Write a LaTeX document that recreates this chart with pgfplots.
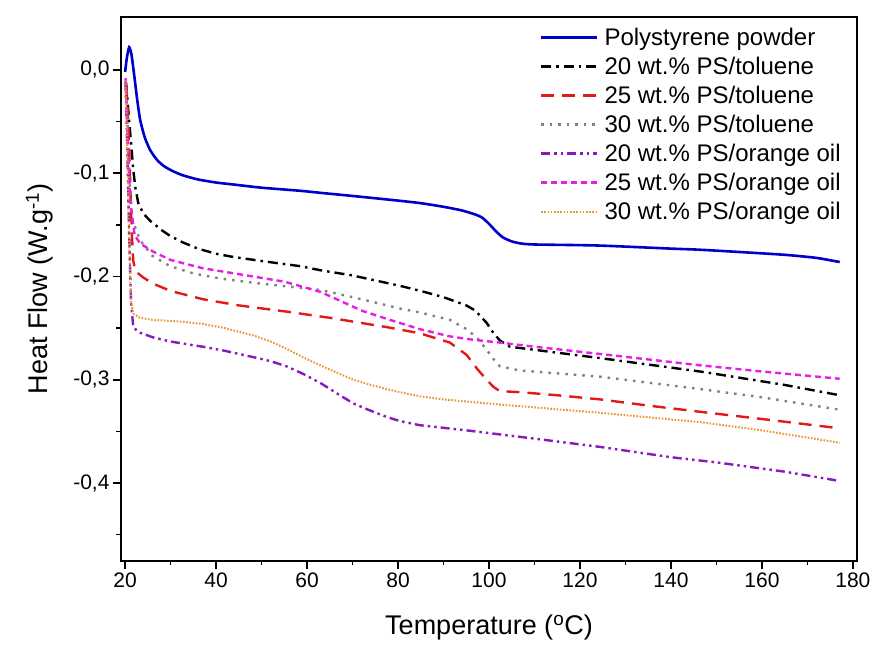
\documentclass[border=0pt]{standalone}
\usepackage{fontspec}
\setmainfont{Liberation Sans}
\usepackage{pgfplots}
\pgfplotsset{compat=1.18}
\definecolor{cblue}{RGB}{0,0,205}
\definecolor{cred}{RGB}{225,25,25}
\definecolor{cgray}{RGB}{128,128,128}
\definecolor{cpurple}{RGB}{135,25,190}
\definecolor{cmag}{RGB}{230,30,230}
\definecolor{corange}{RGB}{230,150,50}
\begin{document}
\begin{tikzpicture}
\begin{axis}[
  at={(0,0)}, anchor=south west,
  scale only axis, width=736pt, height=544pt,
  xmin=19.1, xmax=180.9, ymin=-0.4755, ymax=0.0513,
  xtick={20,40,...,180}, minor xtick={30,50,...,170},
  ytick={-0.4,-0.3,-0.2,-0.1,0}, minor ytick={-0.45,-0.35,-0.25,-0.15,-0.05},
  tick align=outside, tick pos=left,
  major tick length=8pt, minor tick length=4.5pt,
  every tick/.style={black, line width=1.5pt},
  axis line style={line width=1.8pt, black},
  /pgf/number format/assume math mode=true,
  yticklabel style={/pgf/number format/.cd, fixed, fixed zerofill, precision=1, use comma},
  xticklabel style={/pgf/number format/.cd, fixed},
  ticklabel style={font=\fontsize{21}{25}\selectfont},
  xlabel={Temperature (\textsuperscript{o}C)},
  ylabel={Heat Flow (W.g\textsuperscript{-1})},
  label style={font=\fontsize{27}{32}\selectfont},
  xlabel style={at={(axis description cs:0.5,0)}, anchor=north, yshift=-50pt},
  ylabel style={at={(axis description cs:0,0.5)}, anchor=south, yshift=64pt},
  legend style={at={(axis cs:177.8,0.043)}, anchor=north east, draw=none, fill=none,
    font=\fontsize{24}{29}\selectfont, row sep=6.2pt, inner sep=0pt,
    cells={anchor=west},
    /tikz/every odd column/.append style={column sep=4pt}},
  legend image code/.code={\draw[#1] (0pt,0pt) -- (56pt,0pt);},
]
\addplot[cblue, line width=2.6pt, smooth, tension=0.4] coordinates {
(20.0,-0.002)(20.4,0.012)(20.9,0.022)(21.4,0.015)(22,-0.005)(22.7,-0.030)(23.3,-0.048)(24.3,-0.065)(25.5,-0.0775)(27,-0.087)(28.5,-0.093)(30.5,-0.098)(32.7,-0.102)(36,-0.106)(40,-0.109)(44,-0.111)(50,-0.114)(58.5,-0.117)(63,-0.119)(70,-0.122)(80,-0.1265)(85,-0.129)(90,-0.1325)(94,-0.136)(97,-0.140)(98.5,-0.143)(100,-0.149)(101.5,-0.156)(103,-0.162)(105,-0.166)(107,-0.168)(110,-0.169)(124,-0.170)(140,-0.173)(146,-0.174)(154,-0.176)(165,-0.179)(172,-0.182)(177.1,-0.186)
};
\addlegendentry{Polystyrene powder}
\addplot[black, line width=2.4pt, dash pattern=on 10pt off 5pt on 2.5pt off 5pt] coordinates {
(20.2,-0.012)(20.7,-0.039)(21.3,-0.07)(21.8,-0.097)(22.3,-0.115)(22.9,-0.129)(24,-0.139)(25.5,-0.146)(28,-0.155)(30,-0.161)(32.7,-0.167)(36,-0.173)(40,-0.178)(43.7,-0.181)(50,-0.185)(58.5,-0.190)(63,-0.194)(70,-0.199)(80.4,-0.209)(85,-0.214)(90,-0.220)(95,-0.228)(97,-0.233)(99.5,-0.245)(101,-0.255)(102.4,-0.262)(104.6,-0.268)(110,-0.271)(124.4,-0.279)(146.4,-0.292)(153.6,-0.297)(165,-0.305)(177.1,-0.315)
};
\addlegendentry{20 wt.\% PS/toluene}
\addplot[cred, line width=2.4pt, dash pattern=on 13pt off 8pt] coordinates {
(20.3,-0.015)(20.8,-0.06)(21.2,-0.12)(21.5,-0.160)(21.8,-0.185)(22.3,-0.195)(24,-0.201)(26.2,-0.207)(30,-0.214)(37.1,-0.222)(45,-0.228)(55.5,-0.234)(65,-0.240)(77.5,-0.249)(84.8,-0.255)(91.4,-0.264)(95.1,-0.276)(97.5,-0.290)(99.5,-0.300)(101,-0.307)(102.4,-0.311)(106.8,-0.312)(115,-0.315)(124.4,-0.319)(135,-0.325)(146.4,-0.331)(160,-0.338)(177.1,-0.347)
};
\addlegendentry{25 wt.\% PS/toluene}
\addplot[cgray, line width=2.4pt, dash pattern=on 2.5pt off 6pt] coordinates {
(20.2,-0.012)(20.6,-0.06)(21,-0.11)(21.6,-0.145)(23.3,-0.165)(26,-0.180)(29.9,-0.190)(35,-0.197)(40.9,-0.202)(50,-0.207)(62.9,-0.213)(72,-0.222)(80.4,-0.231)(85,-0.235)(91.4,-0.242)(95.1,-0.251)(97.5,-0.260)(99.5,-0.271)(101,-0.280)(102.4,-0.287)(106.8,-0.291)(124.4,-0.297)(146.4,-0.309)(160,-0.317)(177.1,-0.329)
};
\addlegendentry{30 wt.\% PS/toluene}
\addplot[cpurple, line width=2.4pt, dash pattern=on 9pt off 4pt on 2.5pt off 4pt on 2.5pt off 4pt] coordinates {
(20.1,-0.012)(20.5,-0.08)(20.9,-0.16)(21.3,-0.225)(21.8,-0.249)(23,-0.254)(26.2,-0.259)(30,-0.263)(37.1,-0.268)(42,-0.272)(48.1,-0.278)(52,-0.282)(55.5,-0.287)(59,-0.294)(62.9,-0.303)(66.5,-0.313)(70.2,-0.323)(74,-0.330)(77.5,-0.336)(80.4,-0.340)(84.8,-0.344)(95.1,-0.349)(110,-0.357)(124.4,-0.365)(140,-0.375)(150,-0.380)(165,-0.389)(177.1,-0.398)
};
\addlegendentry{20 wt.\% PS/orange oil}
\addplot[cmag, line width=2.4pt, dash pattern=on 6pt off 4pt] coordinates {
(20.1,-0.008)(20.5,-0.06)(21.1,-0.126)(22.1,-0.160)(23.3,-0.168)(26.2,-0.176)(30,-0.184)(37.1,-0.192)(48.1,-0.200)(55,-0.205)(59.1,-0.210)(63,-0.215)(66.5,-0.222)(72,-0.233)(77.5,-0.241)(80.4,-0.245)(84.8,-0.251)(91.4,-0.258)(96,-0.261)(102.4,-0.264)(110,-0.268)(124.4,-0.275)(146.4,-0.286)(160,-0.292)(177.1,-0.299)
};
\addlegendentry{25 wt.\% PS/orange oil}
\addplot[corange, line width=2pt, dash pattern=on 1.6pt off 1.6pt] coordinates {
(20.1,-0.01)(20.5,-0.08)(20.9,-0.17)(21.3,-0.225)(21.8,-0.236)(23.3,-0.240)(26,-0.242)(29.9,-0.243)(33,-0.244)(37.1,-0.246)(42,-0.250)(48.1,-0.257)(52,-0.263)(55.5,-0.270)(59,-0.278)(62.9,-0.286)(66.5,-0.293)(70.2,-0.300)(74,-0.305)(77.5,-0.309)(80.4,-0.312)(84.8,-0.316)(90,-0.319)(102.4,-0.324)(124.4,-0.332)(146.4,-0.341)(160,-0.349)(177.1,-0.361)
};
\addlegendentry{30 wt.\% PS/orange oil}
\end{axis}
\pgfresetboundingbox
\useasboundingbox (-121pt,-87pt) rectangle (750pt,561pt);
\end{tikzpicture}
\end{document}
